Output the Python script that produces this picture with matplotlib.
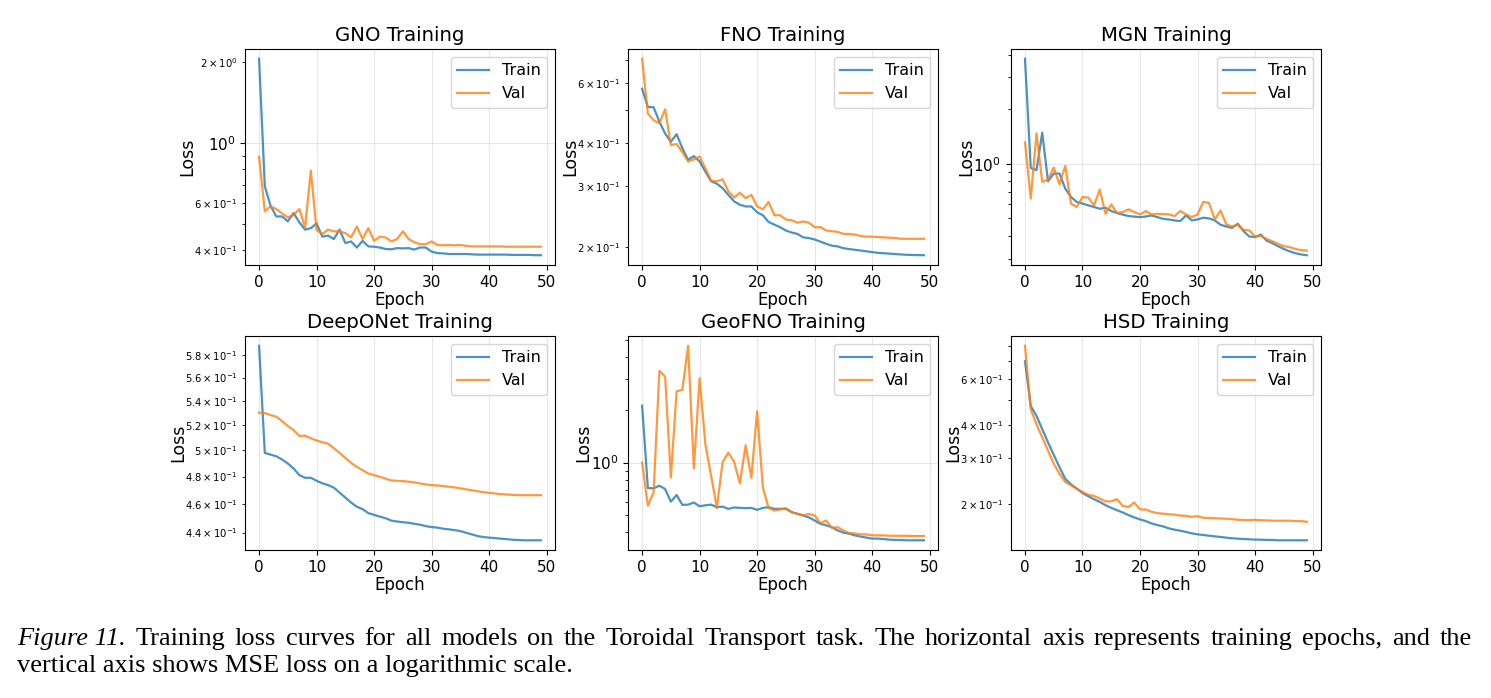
import numpy as np
import matplotlib
matplotlib.use("Agg")
import matplotlib.pyplot as plt

epochs = np.arange(50)

gno_train = [2.06, 0.692, 0.586, 0.535, 0.535, 0.513, 0.551, 0.509, 0.478, 0.484,
             0.504, 0.450, 0.454, 0.441, 0.478, 0.426, 0.432, 0.410, 0.434, 0.414,
             0.413, 0.410, 0.405, 0.404, 0.408, 0.407, 0.408, 0.403, 0.410, 0.410,
             0.396, 0.391, 0.390, 0.388, 0.388, 0.388, 0.388, 0.387, 0.386, 0.386,
             0.386, 0.386, 0.386, 0.386, 0.385, 0.385, 0.385, 0.385, 0.384, 0.384]
gno_val = [0.892, 0.559, 0.583, 0.570, 0.549, 0.531, 0.541, 0.570, 0.487, 0.791,
           0.476, 0.460, 0.478, 0.471, 0.471, 0.464, 0.447, 0.491, 0.441, 0.484,
           0.434, 0.450, 0.447, 0.432, 0.441, 0.471, 0.441, 0.429, 0.422, 0.422,
           0.432, 0.419, 0.418, 0.419, 0.418, 0.419, 0.416, 0.414, 0.414, 0.414,
           0.414, 0.414, 0.414, 0.413, 0.413, 0.413, 0.413, 0.413, 0.413, 0.413]

fno_train = [0.576, 0.510, 0.509, 0.462, 0.427, 0.404, 0.425, 0.387, 0.358, 0.367,
             0.354, 0.331, 0.310, 0.305, 0.296, 0.283, 0.271, 0.265, 0.262, 0.262,
             0.252, 0.247, 0.236, 0.232, 0.228, 0.223, 0.220, 0.218, 0.213, 0.212,
             0.210, 0.207, 0.204, 0.2015, 0.2005, 0.198, 0.197, 0.196, 0.195, 0.194,
             0.193, 0.192, 0.1915, 0.191, 0.1905, 0.190, 0.1895, 0.1893, 0.1891, 0.189]
fno_val = [0.704, 0.488, 0.467, 0.457, 0.502, 0.395, 0.398, 0.377, 0.354, 0.359,
           0.366, 0.338, 0.311, 0.310, 0.314, 0.290, 0.278, 0.287, 0.277, 0.283,
           0.262, 0.257, 0.270, 0.247, 0.247, 0.240, 0.239, 0.235, 0.237, 0.235,
           0.228, 0.228, 0.223, 0.222, 0.221, 0.218, 0.218, 0.217, 0.215, 0.214,
           0.214, 0.2135, 0.213, 0.2125, 0.212, 0.211, 0.211, 0.211, 0.211, 0.211]

mgn_train = [3.80, 0.950, 0.922, 1.486, 0.801, 0.884, 0.884, 0.730, 0.656, 0.616,
             0.603, 0.590, 0.578, 0.565, 0.572, 0.549, 0.535, 0.524, 0.515, 0.511,
             0.508, 0.512, 0.519, 0.508, 0.497, 0.493, 0.487, 0.483, 0.519, 0.487,
             0.493, 0.504, 0.500, 0.487, 0.461, 0.451, 0.443, 0.467, 0.425, 0.397,
             0.394, 0.407, 0.377, 0.365, 0.351, 0.339, 0.329, 0.321, 0.316, 0.313]
mgn_val = [1.313, 0.642, 1.473, 0.795, 0.819, 0.954, 0.771, 0.975, 0.603, 0.578,
           0.656, 0.651, 0.590, 0.721, 0.530, 0.597, 0.535, 0.542, 0.561, 0.542,
           0.526, 0.549, 0.526, 0.530, 0.528, 0.526, 0.515, 0.549, 0.526, 0.508,
           0.526, 0.616, 0.608, 0.493, 0.553, 0.463, 0.451, 0.461, 0.432, 0.429,
           0.397, 0.399, 0.385, 0.374, 0.362, 0.351, 0.347, 0.339, 0.334, 0.332]

deeponet_train = [0.5884, 0.4980, 0.4967, 0.4954, 0.4929, 0.4899, 0.4861, 0.4811, 0.4791, 0.4791,
                  0.4769, 0.4750, 0.4737, 0.4718, 0.4682, 0.4646, 0.4610, 0.4580, 0.4563, 0.4535,
                  0.4522, 0.4510, 0.4499, 0.4482, 0.4476, 0.4471, 0.4467, 0.4460, 0.4454, 0.4444,
                  0.4437, 0.4434, 0.4426, 0.4422, 0.4416, 0.4410, 0.4398, 0.4387, 0.4376, 0.4369,
                  0.4365, 0.4362, 0.4358, 0.4355, 0.4351, 0.4349, 0.4347, 0.4347, 0.4347, 0.4347]
deeponet_val = [0.5302, 0.5298, 0.5282, 0.5269, 0.5233, 0.5193, 0.5161, 0.5114, 0.5116, 0.5095,
                0.5077, 0.5064, 0.5052, 0.5018, 0.4980, 0.4942, 0.4903, 0.4873, 0.4848, 0.4823,
                0.4811, 0.4799, 0.4784, 0.4771, 0.4769, 0.4766, 0.4762, 0.4757, 0.4749, 0.4742,
                0.4737, 0.4734, 0.4730, 0.4725, 0.4720, 0.4713, 0.4706, 0.4699, 0.4692, 0.4685,
                0.4680, 0.4676, 0.4671, 0.4668, 0.4666, 0.4664, 0.4663, 0.4663, 0.4663, 0.4663]

geofno_train = [2.108, 0.716, 0.713, 0.738, 0.707, 0.599, 0.654, 0.574, 0.576, 0.592,
                0.564, 0.571, 0.576, 0.557, 0.561, 0.545, 0.555, 0.552, 0.550, 0.552,
                0.538, 0.552, 0.557, 0.545, 0.545, 0.545, 0.522, 0.511, 0.500, 0.487,
                0.468, 0.448, 0.439, 0.429, 0.411, 0.399, 0.394, 0.385, 0.379, 0.374,
                0.369, 0.369, 0.367, 0.364, 0.363, 0.362, 0.361, 0.361, 0.361, 0.361]
geofno_val = [1.000, 0.569, 0.677, 3.325, 3.087, 0.823, 2.541, 2.596, 4.621, 0.925,
              3.021, 1.269, 0.841, 0.552, 1.009, 1.139, 1.009, 0.761, 1.253, 0.819,
              1.958, 0.722, 0.550, 0.533, 0.540, 0.550, 0.522, 0.511, 0.500, 0.509,
              0.500, 0.452, 0.468, 0.424, 0.429, 0.411, 0.397, 0.395, 0.390, 0.390,
              0.385, 0.385, 0.385, 0.383, 0.383, 0.383, 0.383, 0.382, 0.382, 0.382]

hsd_train = [0.700, 0.473, 0.4336, 0.386, 0.344, 0.308, 0.2766, 0.2499, 0.2378, 0.2291,
             0.2206, 0.2143, 0.2088, 0.2040, 0.1982, 0.1936, 0.1897, 0.1859, 0.1817, 0.1780,
             0.1749, 0.1724, 0.1689, 0.1665, 0.1646, 0.1618, 0.1599, 0.1585, 0.1567, 0.1549,
             0.1535, 0.1526, 0.1517, 0.1508, 0.1500, 0.1491, 0.1483, 0.1478, 0.1474, 0.1470,
             0.1466, 0.1465, 0.1462, 0.1461, 0.1457, 0.1457, 0.1457, 0.1457, 0.1457, 0.1457]
hsd_val = [0.802, 0.459, 0.403, 0.359, 0.320, 0.285, 0.261, 0.243, 0.236, 0.229,
           0.2225, 0.217, 0.215, 0.210, 0.205, 0.205, 0.209, 0.197, 0.195, 0.203,
           0.191, 0.191, 0.187, 0.185, 0.184, 0.183, 0.1825, 0.181, 0.1805, 0.179,
           0.180, 0.1775, 0.1772, 0.1768, 0.1764, 0.176, 0.1755, 0.1744, 0.174, 0.174,
           0.1744, 0.1737, 0.1734, 0.173, 0.173, 0.173, 0.173, 0.1724, 0.1724, 0.1714]

model_names = ["GNO", "FNO", "MGN", "DeepONet", "GeoFNO", "HSD"]
train_curves = [gno_train, fno_train, mgn_train, deeponet_train, geofno_train, hsd_train]
val_curves = [gno_val, fno_val, mgn_val, deeponet_val, geofno_val, hsd_val]

caption_lead = "Figure 11."
caption_line1 = ("Training loss curves for all models on the Toroidal Transport task. "
                 "The horizontal axis represents training epochs, and the")
caption_line2 = "vertical axis shows MSE loss on a logarithmic scale."

W, H = 1491, 698
fig = plt.figure(figsize=(W / 100, H / 100), dpi=100)

# axes boxes in figure fractions (left, bottom, width, height)
col_left = [0.1643, 0.4212, 0.678]
row_bottom = [0.6203, 0.212]
row_height = [0.3095, 0.3066]
ax_width = 0.2079

for i, name in enumerate(model_names):
    r, c = divmod(i, 3)
    ax = fig.add_axes([col_left[c], row_bottom[r], ax_width, row_height[r]])
    ax.plot(epochs, train_curves[i], color="tab:blue", alpha=0.8, lw=1.6, label="Train")
    ax.plot(epochs, val_curves[i], color="tab:orange", alpha=0.8, lw=1.6, label="Val")
    ax.set_yscale("log")
    ax.set_title(f"{name} Training", fontsize=14.2)
    ax.set_xlabel("Epoch", fontsize=12, labelpad=1)
    ax.set_ylabel("Loss", fontsize=12.5, labelpad=-1.5)
    ax.tick_params(axis="both", which="major", labelsize=11)
    ax.tick_params(axis="y", which="minor", labelsize=7.2)
    ax.set_xticks([0, 10, 20, 30, 40, 50])
    ax.grid(True, alpha=0.3)
    ax.legend(loc="upper right", fontsize=11.5)

# caption, first line justified like the paper's text block
cap_font = "Liberation Serif"
cap_size = 19
x0, x1 = 17, 1472
base1, base2 = 645, 672
renderer = fig.canvas.get_renderer()

words = [(caption_lead, "italic")] + [(w, "normal") for w in caption_line1.split()]
texts = []
total = 0.0
for w, st in words:
    t = fig.text(0, 1 - base1 / H, w, family=cap_font, style=st,
                 fontsize=cap_size, ha="left", va="baseline")
    wd = t.get_window_extent(renderer).width
    texts.append((t, wd))
    total += wd
gap = (x1 - x0 - total) / (len(texts) - 1)
x = x0
for t, wd in texts:
    t.set_x(x / W)
    x += wd + gap

fig.text(x0 / W, 1 - base2 / H, caption_line2, family=cap_font,
         fontsize=cap_size, ha="left", va="baseline")

fig.savefig("out.png", dpi=100)
